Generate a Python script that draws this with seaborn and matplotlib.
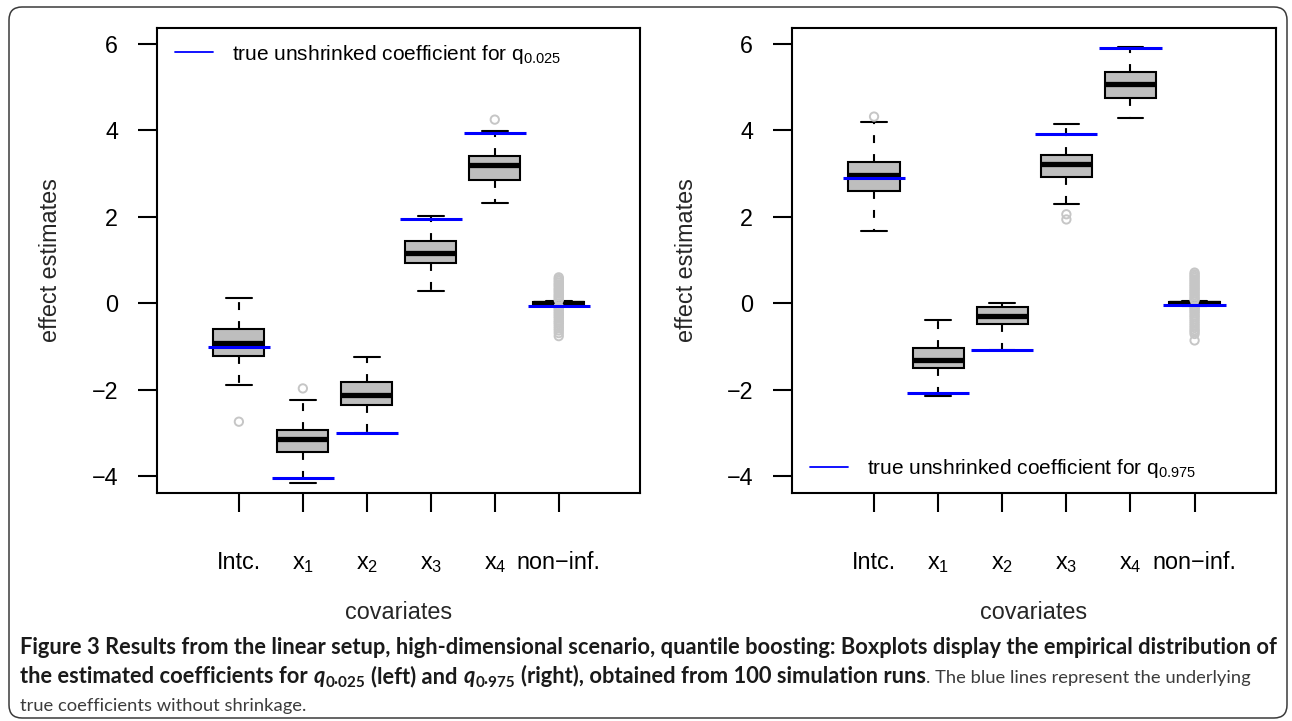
import numpy as np
import pandas as pd
import matplotlib
matplotlib.use("Agg")
import matplotlib.pyplot as plt
import seaborn as sns
from matplotlib.lines import Line2D
from matplotlib.patches import FancyBboxPatch
from matplotlib.transforms import IdentityTransform

# ---------------------------------------------------------------- data
covariates = ["Intc.", "x1", "x2", "x3", "x4", "non-inf."]
tick_labels = ["Intc.", r"$\mathregular{x_1}$", r"$\mathregular{x_2}$",
               r"$\mathregular{x_3}$", r"$\mathregular{x_4}$", "non\u2212inf."]

# quantile boosting for q 0.025: whisker ends, quartiles and median
lo_025 = [-1.88, -4.17, -3.01, 0.28, 2.31, -0.06]
q1_025 = [-1.22, -3.44, -2.36, 0.94, 2.85, -0.02]
med_025 = [-0.91, -3.15, -2.12, 1.16, 3.20, 0.00]
q3_025 = [-0.59, -2.93, -1.83, 1.43, 3.41, 0.03]
hi_025 = [0.12, -2.23, -1.24, 2.02, 3.99, 0.06]
true_025 = [-1.01, -4.04, -3.01, 1.96, 3.95, -0.06]
out_cov_025 = ["Intc.", "x1", "x4"] + ["non-inf."] * 31
out_val_025 = [-2.74, -1.97, 4.25,
               0.60, 0.56, 0.52, 0.48, 0.44, 0.41, 0.37, 0.33, 0.30, 0.26,
               0.22, 0.18, 0.15, 0.11, 0.08,
               -0.08, -0.11, -0.15, -0.19, -0.23, -0.27, -0.31, -0.35,
               -0.40, -0.44, -0.48, -0.53, -0.58, -0.63, -0.69, -0.76]

# quantile boosting for q 0.975
lo_975 = [1.67, -2.14, -1.07, 2.29, 4.28, -0.06]
q1_975 = [2.60, -1.50, -0.49, 2.92, 4.76, -0.02]
med_975 = [2.97, -1.32, -0.30, 3.23, 5.07, 0.00]
q3_975 = [3.28, -1.03, -0.08, 3.43, 5.35, 0.03]
hi_975 = [4.20, -0.38, 0.01, 4.15, 5.92, 0.06]
true_975 = [2.89, -2.07, -1.07, 3.91, 5.90, -0.05]
out_cov_975 = ["Intc.", "x3", "x3"] + ["non-inf."] * 33
out_val_975 = [4.32, 2.06, 1.94,
               0.71, 0.67, 0.63, 0.59, 0.55, 0.51, 0.47, 0.43, 0.39, 0.35,
               0.31, 0.27, 0.23, 0.19, 0.15, 0.11, 0.08,
               -0.08, -0.11, -0.15, -0.19, -0.23, -0.28, -0.32, -0.37,
               -0.42, -0.47, -0.52, -0.57, -0.62, -0.66, -0.71, -0.86]

legend_025 = r"true unshrinked coefficient for $\mathregular{q_{0.025}}$"
legend_975 = r"true unshrinked coefficient for $\mathregular{q_{0.975}}$"

# ---------------------------------------------------------------- style
sns.set_style("ticks")
plt.rcParams["font.family"] = ["Liberation Sans", "DejaVu Sans"]
plt.rcParams["mathtext.default"] = "regular"
plt.rcParams["axes.linewidth"] = 1.5
plt.rcParams["text.color"] = "black"

W, H = 1292, 721
fig = plt.figure(figsize=(W / 100, H / 100), dpi=100)
fig.patch.set_facecolor("white")

BOX_FILL = "#BEBEBE"
OUT_GRAY = "#C6C6C6"
BLUE = "#0000FF"
FS = 16.8


def draw_panel(ax, lo, q1, med, q3, hi, true, out_cov, out_val,
               legend_text, legend_anchor):
    stats = np.column_stack([lo, q1, med, q3, hi])
    df = pd.DataFrame({"covariate": np.repeat(covariates, 5),
                       "value": stats.ravel()})
    sns.boxplot(data=df, x="covariate", y="value", order=covariates, ax=ax,
                width=0.8, color=BOX_FILL, saturation=1, linecolor="black",
                linewidth=1.5, whis=(0, 100), showfliers=False,
                medianprops=dict(linewidth=3.8, color="black",
                                 solid_capstyle="butt"),
                whiskerprops=dict(linestyle=(0, (3.8, 5.3)), linewidth=1.5),
                capprops=dict(linewidth=1.5))
    pos = np.array([covariates.index(c) for c in out_cov])
    ax.scatter(pos, out_val, s=36, facecolors="none", edgecolors=OUT_GRAY,
               linewidths=1.4, zorder=3)
    xs = np.arange(len(covariates))
    ax.hlines(true, xs - 0.485, xs + 0.485, colors=BLUE, linewidth=2.2,
              zorder=4)

    ax.set_xlim(-1.28, 6.27)
    ax.set_ylim(-4.39, 6.37)
    ax.set_yticks([-4, -2, 0, 2, 4, 6])
    ax.set_xticks(xs)
    ax.set_xticklabels(tick_labels)
    for lab in ax.get_xticklabels():
        lab.set_verticalalignment("baseline")
    ax.tick_params(axis="both", direction="out", length=13.7, width=1.5,
                   color="black", labelsize=FS, labelcolor="black")
    ax.tick_params(axis="x", pad=41)
    ax.tick_params(axis="y", pad=14.4)
    for sp in ax.spines.values():
        sp.set_visible(True)
        sp.set_color("black")
        sp.set_linewidth(1.5)

    ax.set_xlabel("covariates", fontsize=FS)
    ax.xaxis.set_label_coords(0.5, -0.271)
    ax.xaxis.label.set_verticalalignment("baseline")
    ax.set_ylabel("effect estimates", fontsize=FS)
    ax.yaxis.label.set_verticalalignment("baseline")

    handle = Line2D([], [], color=BLUE, linewidth=1.3)
    ax.legend([handle], [legend_text], loc="center left",
              bbox_to_anchor=legend_anchor, frameon=False, fontsize=15,
              borderaxespad=0, borderpad=0, handlelength=1.83,
              handletextpad=0.91)


ax_l = fig.add_axes([157 / W, (H - 493) / H, (640 - 157) / W, (493 - 28) / H])
ax_r = fig.add_axes([792 / W, (H - 493) / H, (1276 - 792) / W, (493 - 28) / H])

draw_panel(ax_l, lo_025, q1_025, med_025, q3_025, hi_025, true_025,
           out_cov_025, out_val_025, legend_025, (0.037, 0.944))
ax_l.yaxis.set_label_coords(-0.207, 0.5)
draw_panel(ax_r, lo_975, q1_975, med_975, q3_975, hi_975, true_975,
           out_cov_975, out_val_975, legend_975, (0.037, 0.052))
ax_r.yaxis.set_label_coords(-0.2045, 0.5)

# ---------------------------------------------------------------- frame
frame = FancyBboxPatch((9, 3), 1278, 711,
                       boxstyle="round,pad=0,rounding_size=13",
                       transform=IdentityTransform(), facecolor="none",
                       edgecolor="#3a3a3a", linewidth=1.1, zorder=0)
fig.patches.append(frame)

# ---------------------------------------------------------------- caption
CAP_FONT = ["Lato", "DejaVu Sans"]
BOLD_C = "#1a1a1a"
PLAIN_C = "#3c3c3c"
renderer = fig.canvas.get_renderer()


def text_width(s, size, **kw):
    t = fig.text(0, 0, s, fontsize=size, family=CAP_FONT, **kw)
    w = t.get_window_extent(renderer=renderer).width
    t.remove()
    return w


line1 = ("Figure 3 Results from the linear setup, high-dimensional scenario, "
         "quantile boosting: Boxplots display the empirical distribution of")
cap_size = 12.0 * 1250 / text_width(line1, 12.0, fontweight="bold")


def place_runs(x0, baseline, runs, size):
    gap = (text_width("n n", size, fontweight="bold")
           - text_width("nn", size, fontweight="bold"))
    x = x0
    for item in runs:
        if item is None:
            x += gap
            continue
        s, kw = item
        kw = dict(kw)
        scale = kw.pop("scale", 1.0)
        drop = kw.pop("drop", 0.0)
        t = fig.text(x / W, (H - baseline - drop) / H, s,
                     fontsize=size * scale, family=CAP_FONT,
                     va="baseline", ha="left", **kw)
        x += t.get_window_extent(renderer=renderer).width + 0.5
    return x


B = dict(fontweight="bold", color=BOLD_C)
BI = dict(fontweight="bold", fontstyle="italic", color=BOLD_C)
SUB = dict(fontweight="bold", color=BOLD_C, scale=0.7, drop=4)

fig.text(20 / W, (H - 654) / H, line1, fontsize=cap_size, family=CAP_FONT,
         fontweight="bold", color=BOLD_C, va="baseline", ha="left")
x_end = place_runs(20, 683, [
    ("the estimated coefficients for", B), None,
    ("q", BI), ("0\u00b7025", SUB), None,
    ("(left) and", B), None,
    ("q", BI), ("0\u00b7975", SUB), None,
    ("(right), obtained from 100 simulation runs", B),
], cap_size)

plain2 = ". The blue lines represent the underlying"
plain_size = min(cap_size, cap_size * (1249 - x_end)
                 / text_width(plain2, cap_size, fontweight="normal"))
fig.text(x_end / W, (H - 683) / H, plain2, fontsize=plain_size,
         family=CAP_FONT, fontweight="normal", color=PLAIN_C,
         va="baseline", ha="left")
fig.text(20 / W, (H - 711) / H, "true coefficients without shrinkage.",
         fontsize=plain_size, family=CAP_FONT, fontweight="normal",
         color=PLAIN_C, va="baseline", ha="left")

fig.savefig("out.png", dpi=100, facecolor="white")
